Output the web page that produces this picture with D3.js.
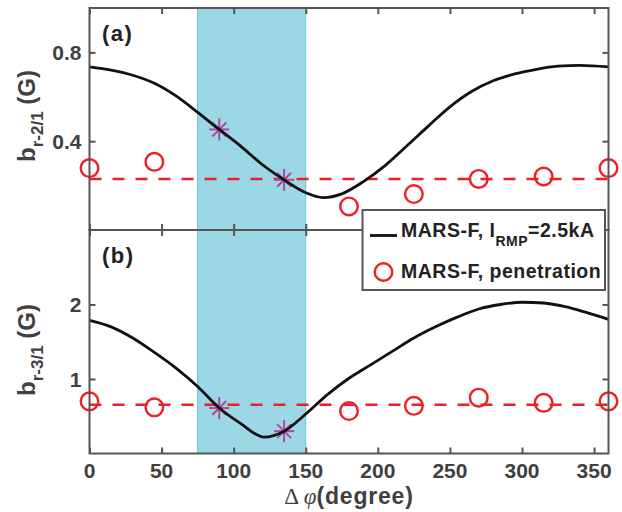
<!DOCTYPE html>
<html>
<head>
<meta charset="utf-8">
<script src="https://cdn.jsdelivr.net/npm/d3@7"></script>
<style>
  html, body { margin: 0; padding: 0; background: #fff; }
  svg { display: block; }
  text { font-family: "Liberation Sans", Arial, sans-serif; }
</style>
</head>
<body>
<svg id="chart" width="622" height="512"></svg>
<script>
// ---------------- data ----------------
const phiCurve = [0, 15, 30, 45, 60, 75, 90, 105, 120, 135, 150, 162, 175, 190, 205, 220, 235, 250, 265, 280, 295, 310, 325, 340, 360];
const curveA = [0.735, 0.72, 0.697, 0.661, 0.604, 0.53, 0.453, 0.377, 0.294, 0.226, 0.168, 0.146, 0.163, 0.218, 0.29, 0.378, 0.468, 0.555, 0.624, 0.672, 0.703, 0.724, 0.738, 0.742, 0.735];
const phiCurveB = [0, 15, 30, 45, 60, 75, 90, 105, 121, 135, 150, 165, 180, 195, 210, 225, 240, 255, 270, 285, 300, 315, 330, 345, 360];
const curveB = [1.787, 1.70, 1.55, 1.357, 1.147, 0.90, 0.61, 0.40, 0.22, 0.30, 0.53, 0.79, 1.01, 1.19, 1.37, 1.55, 1.70, 1.83, 1.94, 2.00, 2.03, 2.02, 1.97, 1.89, 1.80];
const phiPen = [0, 45, 180, 225, 270, 315, 360];
const penA = [0.279, 0.307, 0.106, 0.162, 0.23, 0.241, 0.279];
const penB = [0.70, 0.62, 0.57, 0.64, 0.75, 0.68, 0.70];
const dashA = 0.23;
const dashB = 0.653;
const phiStar = [90, 135];
const starA = [0.453, 0.226];
const starB = [0.61, 0.30];
const shade = [75, 150];
const xTicks = [0, 50, 100, 150, 200, 250, 300, 350];
const yTicksA = [0.4, 0.8];
const yTicksB = [1, 2];
const domainA = [0, 1];
const domainB = [0, 3];

// ---------------- layout ----------------
const svg = d3.select("#chart");
const x = d3.scaleLinear().domain([0, 360]).range([89.5, 608.5]);
const panels = [
  { label: "(a)", y: d3.scaleLinear().domain(domainA).range([230, 8]), phi: phiCurve, curve: curveA, pen: penA, dash: dashA, star: starA, ticks: yTicksA, fmt: d3.format(".1f"), ylab: "r-2/1", lc: 116 },
  { label: "(b)", y: d3.scaleLinear().domain(domainB).range([453.5, 230]), phi: phiCurveB, curve: curveB, pen: penB, dash: dashB, star: starB, ticks: yTicksB, fmt: d3.format("d"), ylab: "r-3/1", lc: 350 }
];

const RED = "#ee1f26";
const STAR = "#b0489c";
const AX = "#555555";
const TXT = "#404040";

panels.forEach(p => {
  const y = p.y;
  const g = svg.append("g");
  const [y0, y1] = y.range();
  // shaded band
  g.append("rect")
    .attr("x", x(shade[0])).attr("y", y1)
    .attr("width", x(shade[1]) - x(shade[0])).attr("height", y0 - y1)
    .attr("fill", "#9bd7e5").attr("stroke", "#5fc6dc").attr("stroke-width", 1);
  // dashed penetration level
  g.append("line")
    .attr("x1", x(0)).attr("x2", x(360))
    .attr("y1", y(p.dash)).attr("y2", y(p.dash))
    .attr("stroke", RED).attr("stroke-width", 2.5)
    .attr("stroke-dasharray", "12,11");
  // circles
  g.selectAll("circle.pen").data(phiPen.map((d, i) => [d, p.pen[i]])).join("circle")
    .attr("class", "pen")
    .attr("cx", d => x(d[0])).attr("cy", d => y(d[1])).attr("r", 8.8)
    .attr("fill", "none").attr("stroke", RED).attr("stroke-width", 2.4);
  // stars
  phiStar.forEach((ph, i) => {
    const cx = x(ph), cy = y(p.star[i]);
    const s = g.append("g").attr("transform", `translate(${cx},${cy})`)
      .attr("stroke", STAR).attr("stroke-width", 2);
    s.append("line").attr("x1", -10).attr("x2", 10).attr("y1", 0).attr("y2", 0);
    s.append("line").attr("x1", 0).attr("x2", 0).attr("y1", -11).attr("y2", 11);
    s.append("line").attr("x1", -7).attr("x2", 7).attr("y1", -7).attr("y2", 7);
    s.append("line").attr("x1", -7).attr("x2", 7).attr("y1", 7).attr("y2", -7);
  });
  // curve
  const line = d3.line().x(d => x(d[0])).y(d => y(d[1])).curve(d3.curveMonotoneX);
  g.append("path")
    .datum(p.phi.map((d, i) => [d, p.curve[i]]))
    .attr("d", line)
    .attr("fill", "none").attr("stroke", "#111").attr("stroke-width", 2.8)
    .attr("stroke-linejoin", "round");

  // frame
  g.append("rect")
    .attr("x", x(0)).attr("y", y1).attr("width", x(360) - x(0)).attr("height", y0 - y1)
    .attr("fill", "none").attr("stroke", AX).attr("stroke-width", 2);

  // inward ticks
  const tl = 6;
  const axB = d3.axisTop(x).tickValues(xTicks).tickSize(tl).tickFormat("");
  const axT = d3.axisBottom(x).tickValues(xTicks).tickSize(tl).tickFormat("");
  const gb = g.append("g").attr("transform", `translate(0,${y0})`).call(axB);
  const gt = g.append("g").attr("transform", `translate(0,${y1})`).call(axT);
  const axL = d3.axisRight(y).tickValues(p.ticks).tickSize(tl).tickFormat("");
  const axR = d3.axisLeft(y).tickValues(p.ticks).tickSize(tl).tickFormat("");
  const gl = g.append("g").attr("transform", `translate(${x(0)},0)`).call(axL);
  const gr = g.append("g").attr("transform", `translate(${x(360)},0)`).call(axR);
  [gb, gt, gl, gr].forEach(a => {
    a.select(".domain").remove();
    a.selectAll(".tick line").attr("stroke", AX).attr("stroke-width", 2);
  });

  // y tick labels
  g.selectAll("text.ytl").data(p.ticks).join("text")
    .attr("class", "ytl")
    .attr("x", x(0) - 8).attr("y", d => y(d))
    .attr("dy", "0.36em")
    .attr("text-anchor", "end")
    .attr("font-size", 21).attr("font-weight", "bold").attr("fill", TXT)
    .text(d => p.fmt(d));

  // panel label
  g.append("text")
    .attr("x", 102).attr("y", y1 + 33)
    .attr("font-size", 22).attr("font-weight", "bold").attr("fill", "#222")
    .attr("letter-spacing", 1.5)
    .text(p.label);

  // y axis label
  const yl = g.append("text")
    .attr("transform", `translate(35,${p.lc}) rotate(-90)`)
    .attr("text-anchor", "middle")
    .attr("font-size", 24).attr("font-weight", "bold").attr("fill", TXT);
  yl.append("tspan").text("b");
  yl.append("tspan").attr("font-size", 17).attr("dy", 8).text(p.ylab);
  yl.append("tspan").attr("dy", -8).text("\u00a0(G)");
});

// x tick labels
svg.selectAll("text.xtl").data(xTicks).join("text")
  .attr("class", "xtl")
  .attr("x", d => x(d)).attr("y", 478)
  .attr("text-anchor", "middle")
  .attr("font-size", 21).attr("font-weight", "bold").attr("fill", TXT)
  .text(d => d);

// x axis label
const xl = svg.append("text")
  .attr("x", 349).attr("y", 504)
  .attr("text-anchor", "middle")
  .attr("font-size", 23).attr("fill", TXT);
xl.append("tspan").attr("font-family", "'Liberation Serif', 'DejaVu Serif', serif").text("\u0394");
xl.append("tspan").attr("font-family", "'Liberation Serif', 'DejaVu Serif', serif").attr("font-style", "italic").text("\u2009\u03c6");
xl.append("tspan").attr("font-weight", "bold").attr("letter-spacing", 0.8).text("(degree)");

// legend
const lg = svg.append("g");
lg.append("rect").attr("x", 362.5).attr("y", 210).attr("width", 242.5).attr("height", 80)
  .attr("fill", "#fff").attr("stroke", AX).attr("stroke-width", 2);
lg.append("line").attr("x1", 370).attr("x2", 397).attr("y1", 235.5).attr("y2", 235.5)
  .attr("stroke", "#111").attr("stroke-width", 2.8);
const t1 = lg.append("text").attr("x", 401).attr("y", 237)
  .attr("font-size", 19.5).attr("font-weight", "bold").attr("fill", "#222")
  .attr("letter-spacing", 0.5);
t1.append("tspan").text("MARS-F, I");
t1.append("tspan").attr("font-size", 14).attr("dy", 9).text("RMP");
t1.append("tspan").attr("dy", -9).text("=2.5kA");
lg.append("circle").attr("cx", 383.5).attr("cy", 272).attr("r", 8.8)
  .attr("fill", "none").attr("stroke", RED).attr("stroke-width", 2.4);
lg.append("text").attr("x", 401).attr("y", 278)
  .attr("font-size", 19.5).attr("font-weight", "bold").attr("fill", "#222")
  .attr("letter-spacing", 0.5)
  .text("MARS-F, penetration");
</script>
</body>
</html>
